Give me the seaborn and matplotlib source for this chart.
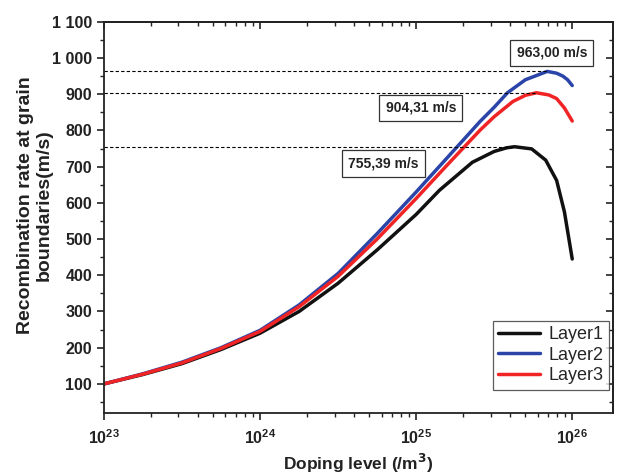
import numpy as np
import pandas as pd
import matplotlib
matplotlib.use("Agg")
import matplotlib.pyplot as plt
import matplotlib.ticker as mticker
import seaborn as sns

# Values (log10 of doping level)
log_doping_l1 = [23.0, 23.25, 23.5, 23.75, 24.0, 24.25, 24.5, 24.75, 25.0, 25.15, 25.36, 25.5, 25.58,
                 25.63, 25.74, 25.83, 25.9, 25.95, 26.0]
layer1 = [100, 126, 156, 195, 240, 300, 378, 470, 568, 635, 712, 742, 752,
          755, 749, 718, 662, 575, 445]

log_doping_l2 = [23.0, 23.25, 23.5, 23.75, 24.0, 24.25, 24.5, 24.75, 25.0, 25.2, 25.41, 25.5, 25.585,
                 25.7, 25.84, 25.9, 25.94, 25.97, 26.0]
layer2 = [100, 128, 160, 200, 248, 318, 405, 515, 630, 725, 825, 864, 904,
          940, 963, 958, 950, 940, 924]

log_doping_l3 = [23.0, 23.25, 23.5, 23.75, 24.0, 24.25, 24.5, 24.75, 25.0, 25.2, 25.41, 25.5, 25.62,
                 25.7, 25.77, 25.85, 25.9, 25.95, 26.0]
layer3 = [100, 127, 158, 198, 245, 313, 397, 500, 612, 705, 801, 838, 880,
          897, 904, 898, 888, 862, 826]

peak_values = [755.39, 963.00, 904.31]
peak_log_x = [25.63, 25.84, 25.77]
peak_labels = ["755,39 m/s", "963,00 m/s", "904,31 m/s"]
label_log_x = [24.79, 25.87, 25.03]
label_y = [709, 1014, 862]

df = pd.concat([
    pd.DataFrame({"doping": 10 ** np.array(log_doping_l1), "rate": layer1, "layer": "Layer1"}),
    pd.DataFrame({"doping": 10 ** np.array(log_doping_l2), "rate": layer2, "layer": "Layer2"}),
    pd.DataFrame({"doping": 10 ** np.array(log_doping_l3), "rate": layer3, "layer": "Layer3"}),
], ignore_index=True)

sns.set_style("ticks")
plt.rcParams['font.family'] = ['Liberation Sans', 'DejaVu Sans']

fig = plt.figure(figsize=(6.19, 4.74), dpi=100)
ax = fig.add_axes([0.168, 0.129, 0.822, 0.825])

palette = {"Layer1": "#111111", "Layer2": "#2a44a8", "Layer3": "#f02424"}
sns.lineplot(data=df, x="doping", y="rate", hue="layer", palette=palette,
             linewidth=2.5, ax=ax, sort=False, estimator=None)
ax.set_xscale("log")
ax.set_xlim(1e23, 10 ** 26.26)
ax.set_ylim(20, 1100)

# dashed guides to each maximum
for v, lx in zip(peak_values, peak_log_x):
    ax.plot([1e23, 10 ** lx], [v, v], color="black", linestyle=(0, (3, 2)), linewidth=0.8)

for txt, lx, ly in zip(peak_labels, label_log_x, label_y):
    ax.text(10 ** lx, ly, txt, ha="center", va="center", fontsize=10, fontweight="bold",
            color="#222222",
            bbox=dict(boxstyle="square,pad=0.45", facecolor="white", edgecolor="#333333", linewidth=0.9))

yticks = list(range(100, 1101, 100))
ax.yaxis.set_major_locator(mticker.FixedLocator(yticks))
ax.yaxis.set_minor_locator(mticker.MultipleLocator(50))
ax.yaxis.set_major_formatter(mticker.FuncFormatter(lambda v, p: f"{int(v):,}".replace(",", " ")))
ax.xaxis.set_major_locator(mticker.LogLocator(base=10))
ax.xaxis.set_minor_locator(mticker.LogLocator(base=10, subs=np.arange(2, 10)))
ax.xaxis.set_minor_formatter(mticker.NullFormatter())

ax.tick_params(axis="both", which="major", direction="out", length=5, width=1.2,
               labelsize=11.5, colors="#222222")
ax.tick_params(axis="both", which="minor", direction="out", length=3, width=1.0, colors="#222222")
ax.tick_params(axis="x", which="major", pad=6)
for lab in ax.get_xticklabels() + ax.get_yticklabels():
    lab.set_fontweight("bold")
for side in ["top", "right", "left", "bottom"]:
    ax.spines[side].set_visible(True)
    ax.spines[side].set_color("#222222")
    ax.spines[side].set_linewidth(1.3)

# mirrored ticks pointing inward on top and right
sec_x = ax.secondary_xaxis("top")
sec_x.xaxis.set_major_locator(mticker.LogLocator(base=10))
sec_x.xaxis.set_minor_locator(mticker.LogLocator(base=10, subs=np.arange(2, 10)))
sec_x.tick_params(axis="x", which="major", direction="in", length=5, width=1.2, labeltop=False, colors="#222222")
sec_x.tick_params(axis="x", which="minor", direction="in", length=3, width=1.0, colors="#222222")
sec_y = ax.secondary_yaxis("right")
sec_y.yaxis.set_major_locator(mticker.FixedLocator(yticks))
sec_y.yaxis.set_minor_locator(mticker.MultipleLocator(50))
sec_y.tick_params(axis="y", which="major", direction="in", length=5, width=1.2, labelright=False, colors="#222222")
sec_y.tick_params(axis="y", which="minor", direction="in", length=3, width=1.0, colors="#222222")
for a in (sec_x, sec_y):
    for s in a.spines.values():
        s.set_color("#222222")
        s.set_linewidth(1.3)

ax.set_xlabel("Doping level (/m$^{\\mathbf{3}}$)", fontsize=12.5, fontweight="bold", color="#222222")
ax.set_ylabel("Recombination rate at grain\nboundaries(m/s)", fontsize=14, fontweight="bold",
              color="#222222", linespacing=1.2)
ax.yaxis.set_label_coords(-0.10, 0.53)

leg = ax.legend(loc="lower right", bbox_to_anchor=(0.993, 0.059), borderaxespad=0, fontsize=13,
                frameon=True, fancybox=False, handlelength=2.3, labelspacing=0.2, borderpad=0.3,
                handletextpad=0.5)
leg.get_frame().set_edgecolor("#333333")
leg.get_frame().set_linewidth(0.9)
leg.set_title(None)

fig.savefig("out.png", dpi=100)
